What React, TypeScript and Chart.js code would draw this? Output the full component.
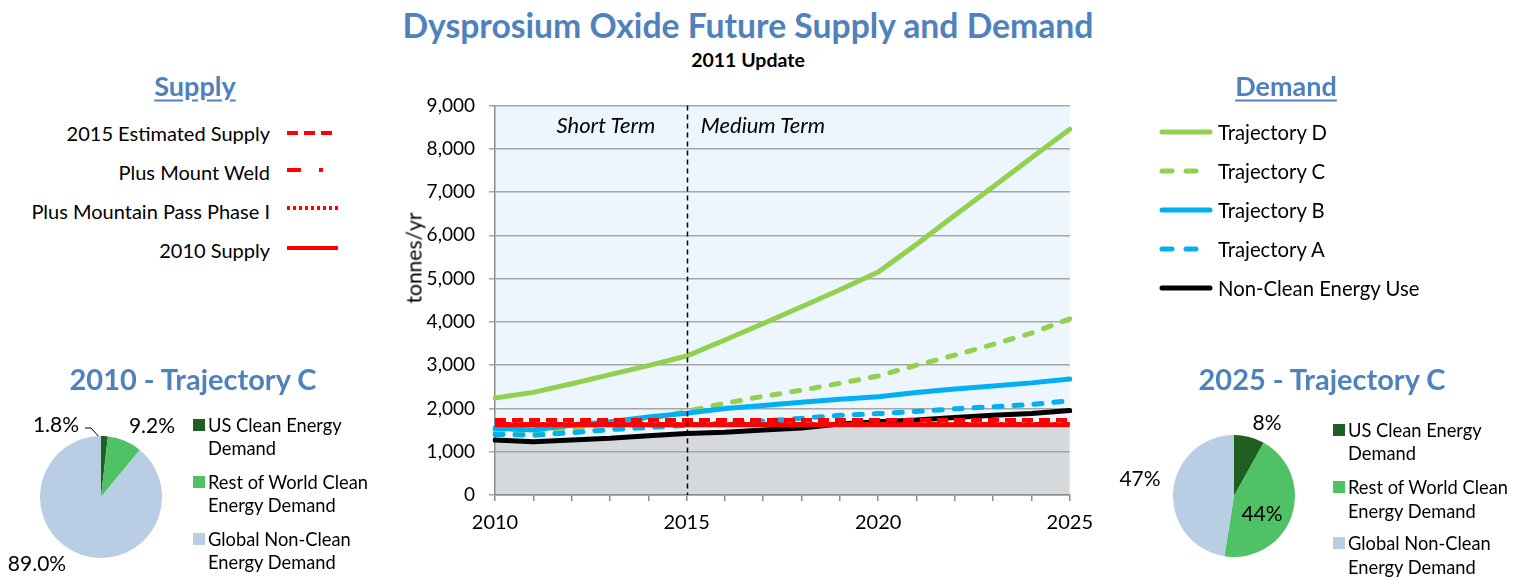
import React, { useEffect, useRef } from "react";
import { Chart, registerables } from "chart.js";

// ---------- DATA ----------
const years = ["2010", "2011", "2012", "2013", "2014", "2015", "2016", "2017", "2018", "2019", "2020", "2021", "2022", "2023", "2024", "2025"];
const trajectoryD = [2240, 2370, 2570, 2780, 2990, 3210, 3580, 3960, 4350, 4740, 5150, 5790, 6460, 7120, 7790, 8450];
const trajectoryC = [1480, 1460, 1540, 1640, 1760, 1930, 2120, 2280, 2420, 2580, 2750, 3000, 3230, 3480, 3740, 4070];
const trajectoryB = [1540, 1500, 1610, 1690, 1800, 1890, 2000, 2070, 2140, 2210, 2270, 2370, 2450, 2520, 2590, 2680];
const trajectoryA = [1400, 1380, 1440, 1510, 1560, 1610, 1660, 1710, 1770, 1840, 1880, 1930, 1990, 2040, 2090, 2180];
const nonCleanUse = [1270, 1230, 1270, 1310, 1370, 1420, 1450, 1500, 1550, 1640, 1690, 1730, 1790, 1840, 1880, 1950];
const shadedArea = [1270, 1230, 1270, 1310, 1370, 1420, 1450, 1500, 1550, 1550, 1550, 1550, 1550, 1550, 1550, 1550];
const supply2015Estimated = [1730, 1730, 1730, 1730, 1730, 1730, 1730, 1730, 1730, 1730, 1730, 1730, 1730, 1730, 1730, 1730];
const supplyMountWeld = [1650, 1650, 1650, 1650, 1650, 1650, 1650, 1650, 1650, 1650, 1650, 1650, 1650, 1650, 1650, 1650];
const supplyMountainPass = [1635, 1635, 1635, 1635, 1635, 1635, 1635, 1635, 1635, 1635, 1635, 1635, 1635, 1635, 1635, 1635];
const supply2010 = [1625, 1625, 1625, 1625, 1625, 1625, 1625, 1625, 1625, 1625, 1625, 1625, 1625, 1625, 1625, 1625];
const yTicks = [0, 1000, 2000, 3000, 4000, 5000, 6000, 7000, 8000, 9000];
const xLabelYears = ["2010", "2015", "2020", "2025"];
const dividerYear = "2015";

const pieCategories = ["US Clean Energy Demand", "Rest of World Clean Energy Demand", "Global Non-Clean Energy Demand"];
const pie2010 = [1.8, 9.2, 89.0];
const pie2010Labels = ["1.8%", "9.2%", "89.0%"];
const pie2025 = [8, 44, 47];
const pie2025Labels = ["8%", "44%", "47%"];

// ---------- STYLE ----------
const RED = "#FF0000";
const GREEN = "#92D050";
const BLUE = "#00B0F0";
const BLACK = "#000000";
const TITLE_BLUE = "#4F81BD";
const PIE_COLORS = ["#215E21", "#4FC265", "#B9CDE5"];
const FONT = "Lato, 'Open Sans', sans-serif";

const plotBgPlugin: any = {
  id: "plotBg",
  beforeDraw(chart: any, _a: any, opts: any) {
    if (!opts || !opts.color) return;
    const a = chart.chartArea;
    const ctx = chart.ctx;
    ctx.save();
    ctx.fillStyle = opts.color;
    ctx.fillRect(a.left, a.top, a.right - a.left, a.bottom - a.top);
    ctx.restore();
  },
  afterDatasetsDraw(chart: any, _a: any, opts: any) {
    if (!opts || opts.divider == null) return;
    const a = chart.chartArea;
    const ctx = chart.ctx;
    const idx = chart.data.labels.indexOf(opts.divider);
    const x = Math.round(chart.scales.x.getPixelForValue(idx)) + 0.5;
    ctx.save();
    ctx.strokeStyle = "#000";
    ctx.lineWidth = 1.5;
    ctx.setLineDash([5, 4]);
    ctx.beginPath();
    ctx.moveTo(x, a.top);
    ctx.lineTo(x, a.bottom);
    ctx.stroke();
    ctx.restore();
  },
};
Chart.register(plotBgPlugin);
Chart.register(...registerables);

function LineChart() {
  const ref = useRef<HTMLCanvasElement>(null);
  useEffect(() => {
    const line = (label: string, data: number[], color: string, width: number, dash: number[], order: number, cap: any = "butt") => ({
      label, data, borderColor: color, backgroundColor: color, borderWidth: width, borderDash: dash,
      borderCapStyle: cap, pointRadius: 0, tension: 0, fill: false, order,
    });
    const chart = new Chart(ref.current!, {
      type: "line",
      data: {
        labels: years,
        datasets: [
          line("2015 Estimated Supply", supply2015Estimated, RED, 4, [11, 6], 0),
          line("2010 Supply", supply2010, RED, 5, [], 1),
          line("Plus Mount Weld", supplyMountWeld, RED, 3, [14, 5, 3, 5], 2),
          line("Plus Mountain Pass Phase I", supplyMountainPass, RED, 3, [3, 3], 3),
          line("Non-Clean Energy Use", nonCleanUse, BLACK, 5, [], 4, "round"),
          line("Trajectory A", trajectoryA, BLUE, 5, [8, 12], 5, "round"),
          line("Trajectory B", trajectoryB, BLUE, 5, [], 6, "round"),
          line("Trajectory C", trajectoryC, GREEN, 5, [8, 12], 7, "round"),
          line("Trajectory D", trajectoryD, GREEN, 5, [], 8, "round"),
          {
            label: "shaded", data: shadedArea, borderWidth: 0, borderColor: "rgba(0,0,0,0)",
            backgroundColor: "#D5D9DC", pointRadius: 0, fill: "origin", order: 20,
          } as any,
        ],
      },
      options: {
        animation: false,
        responsive: true,
        maintainAspectRatio: false,
        layout: { padding: { top: 0, right: 0, left: 0, bottom: 0 } },
        plugins: {
          legend: { display: false },
          tooltip: { enabled: false },
          title: { display: false },
          filler: { drawTime: "beforeDraw" } as any,
          plotBg: { color: "#EEF6FD", divider: dividerYear },
        } as any,
        scales: {
          x: {
            type: "category",
            offset: false,
            grid: { display: true, drawOnChartArea: false, drawTicks: true, tickLength: 6, color: "#8C8C8C", lineWidth: 1.5 },
            border: { color: "#8C8C8C", width: 1.5 },
            ticks: {
              autoSkip: false, maxRotation: 0, minRotation: 0, padding: 10, color: "#000",
              font: { family: FONT, size: 20 },
              callback: (_v: any, i: number) => (xLabelYears.includes(years[i]) ? years[i] : ""),
            },
            afterFit: (s: any) => { s.height = 45; },
          },
          y: {
            min: yTicks[0],
            max: yTicks[yTicks.length - 1],
            afterBuildTicks: (s: any) => { s.ticks = yTicks.map((v) => ({ value: v })); },
            grid: { color: "#A6A6A6", lineWidth: 1.5, tickLength: 6, drawTicks: true },
            border: { color: "#8C8C8C", width: 1.5 },
            ticks: {
              padding: 14, color: "#000", font: { family: FONT, size: 19 },
              callback: (v: any) => Number(v).toLocaleString("en-US"),
            },
            afterFit: (s: any) => { s.width = 105; },
          },
        },
      } as any,
    });
    return () => chart.destroy();
  }, []);
  return <canvas ref={ref} />;
}

function PieChart({ values }: { values: number[] }) {
  const ref = useRef<HTMLCanvasElement>(null);
  useEffect(() => {
    const chart = new Chart(ref.current!, {
      type: "pie",
      data: {
        labels: pieCategories,
        datasets: [{ data: values, backgroundColor: PIE_COLORS, borderWidth: 0, hoverOffset: 0, offset: 0 } as any],
      },
      options: {
        animation: false,
        responsive: true,
        maintainAspectRatio: false,
        layout: { padding: 0 },
        plugins: { legend: { display: false }, tooltip: { enabled: false }, plotBg: false } as any,
      } as any,
    });
    return () => chart.destroy();
  }, [values]);
  return <canvas ref={ref} />;
}

type TxtProps = { x: number; y: number; align?: "left" | "center" | "right"; style?: React.CSSProperties; children: React.ReactNode };
function Txt({ x, y, align = "left", style, children }: TxtProps) {
  const tx = align === "left" ? "0" : align === "center" ? "-50%" : "-100%";
  return (
    <div style={{ position: "absolute", left: x, top: y, transform: `translate(${tx}, -50%)`, whiteSpace: "nowrap", lineHeight: 1, fontFamily: FONT, color: "#000", ...style }}>
      {children}
    </div>
  );
}

const supplyLegend = [
  { label: "2015 Estimated Supply", dash: "11 6", ty: 133, ly: 133 },
  { label: "Plus Mount Weld", dash: "14 18 4 18", ty: 172, ly: 170 },
  { label: "Plus Mountain Pass Phase I", dash: "3 3", ty: 211, ly: 208 },
  { label: "2010 Supply", dash: "", ty: 250, ly: 248 },
];
const demandLegend = [
  { label: "Trajectory D", color: GREEN, dash: "", y: 132 },
  { label: "Trajectory C", color: GREEN, dash: "10 14", y: 171 },
  { label: "Trajectory B", color: BLUE, dash: "", y: 210 },
  { label: "Trajectory A", color: BLUE, dash: "10 14", y: 249 },
  { label: "Non-Clean Energy Use", color: BLACK, dash: "", y: 288 },
];

function PieLegend({ x, ys }: { x: number; ys: number[][] }) {
  const lines = [["US Clean Energy", "Demand"], ["Rest of World Clean", "Energy Demand"], ["Global Non-Clean", "Energy Demand"]];
  return (
    <>
      {lines.map((l, i) => (
        <React.Fragment key={i}>
          <div style={{ position: "absolute", left: x, top: ys[i][0] - 6, width: 12, height: 12, background: PIE_COLORS[i] }} />
          <Txt x={x + 15} y={ys[i][0]} style={{ fontSize: 18.3 }}>{l[0]}</Txt>
          <Txt x={x + 15} y={ys[i][1]} style={{ fontSize: 18.3 }}>{l[1]}</Txt>
        </React.Fragment>
      ))}
    </>
  );
}

export default function App() {
  const heading: React.CSSProperties = { fontWeight: 700, color: TITLE_BLUE };
  return (
    <div style={{ position: "absolute", left: 0, top: 0, width: 1523, height: 578, background: "#fff", overflow: "hidden", fontFamily: FONT }}>
      <Txt x={748} y={26} align="center" style={{ ...heading, fontSize: 33.7 }}>Dysprosium Oxide Future Supply and Demand</Txt>
      <Txt x={748} y={60} align="center" style={{ fontWeight: 700, fontSize: 19.5 }}>2011 Update</Txt>

      <div style={{ position: "absolute", left: 390, top: 80, width: 713, height: 460 }}>
        <LineChart />
      </div>
      <Txt x={413} y={258} align="center" style={{ fontSize: 21, transform: "translate(-50%, -50%) rotate(-90deg)" }}>tonnes/yr</Txt>
      <Txt x={606} y={125} align="center" style={{ fontSize: 22, fontStyle: "italic" }}>Short Term</Txt>
      <Txt x={763} y={125} align="center" style={{ fontSize: 22, fontStyle: "italic" }}>Medium Term</Txt>

      {/* Supply legend */}
      <Txt x={195} y={85} align="center" style={{ ...heading, fontSize: 27, textDecoration: "underline", textUnderlineOffset: 4 }}>Supply</Txt>
      {supplyLegend.map((s) => (
        <Txt key={s.label} x={270} y={s.ty} align="right" style={{ fontSize: 20 }}>{s.label}</Txt>
      ))}
      <svg style={{ position: "absolute", left: 0, top: 0 }} width={1523} height={578}>
        {supplyLegend.map((s) => (
          <line key={s.label} x1={287} x2={338} y1={s.ly} y2={s.ly} stroke={RED} strokeWidth={4} strokeDasharray={s.dash || undefined} />
        ))}
        {demandLegend.map((d) => (
          <line key={d.label} x1={1162} x2={1210} y1={d.y} y2={d.y} stroke={d.color} strokeWidth={5} strokeLinecap="round" strokeDasharray={d.dash || undefined} />
        ))}
        <polyline points="85,428 91,428 100,438" fill="none" stroke="#000" strokeWidth={1} />
      </svg>

      {/* Demand legend */}
      <Txt x={1286} y={85} align="center" style={{ ...heading, fontSize: 27, textDecoration: "underline", textUnderlineOffset: 4 }}>Demand</Txt>
      {demandLegend.map((d) => (
        <Txt key={d.label} x={1218} y={d.y} style={{ fontSize: 20.3 }}>{d.label}</Txt>
      ))}

      {/* Pie 2010 */}
      <Txt x={193} y={378} align="center" style={{ ...heading, fontSize: 29 }}>2010 - Trajectory C</Txt>
      <div style={{ position: "absolute", left: 40, top: 436, width: 122, height: 122 }}>
        <PieChart values={pie2010} />
      </div>
      <Txt x={56} y={423} align="center" style={{ fontSize: 21 }}>{pie2010Labels[0]}</Txt>
      <Txt x={152} y={424} align="center" style={{ fontSize: 21 }}>{pie2010Labels[1]}</Txt>
      <Txt x={37} y={562} align="center" style={{ fontSize: 21 }}>{pie2010Labels[2]}</Txt>
      <PieLegend x={193} ys={[[425, 448], [482, 505], [539, 562]]} />

      {/* Pie 2025 */}
      <Txt x={1322} y={378} align="center" style={{ ...heading, fontSize: 29 }}>2025 - Trajectory C</Txt>
      <div style={{ position: "absolute", left: 1173, top: 435, width: 122, height: 122 }}>
        <PieChart values={pie2025} />
      </div>
      <Txt x={1267} y={421} align="center" style={{ fontSize: 21 }}>{pie2025Labels[0]}</Txt>
      <Txt x={1262} y={512} align="center" style={{ fontSize: 21 }}>{pie2025Labels[1]}</Txt>
      <Txt x={1140} y={477} align="center" style={{ fontSize: 21 }}>{pie2025Labels[2]}</Txt>
      <PieLegend x={1333} ys={[[430, 453], [487, 511], [543, 567]]} />
    </div>
  );
}
